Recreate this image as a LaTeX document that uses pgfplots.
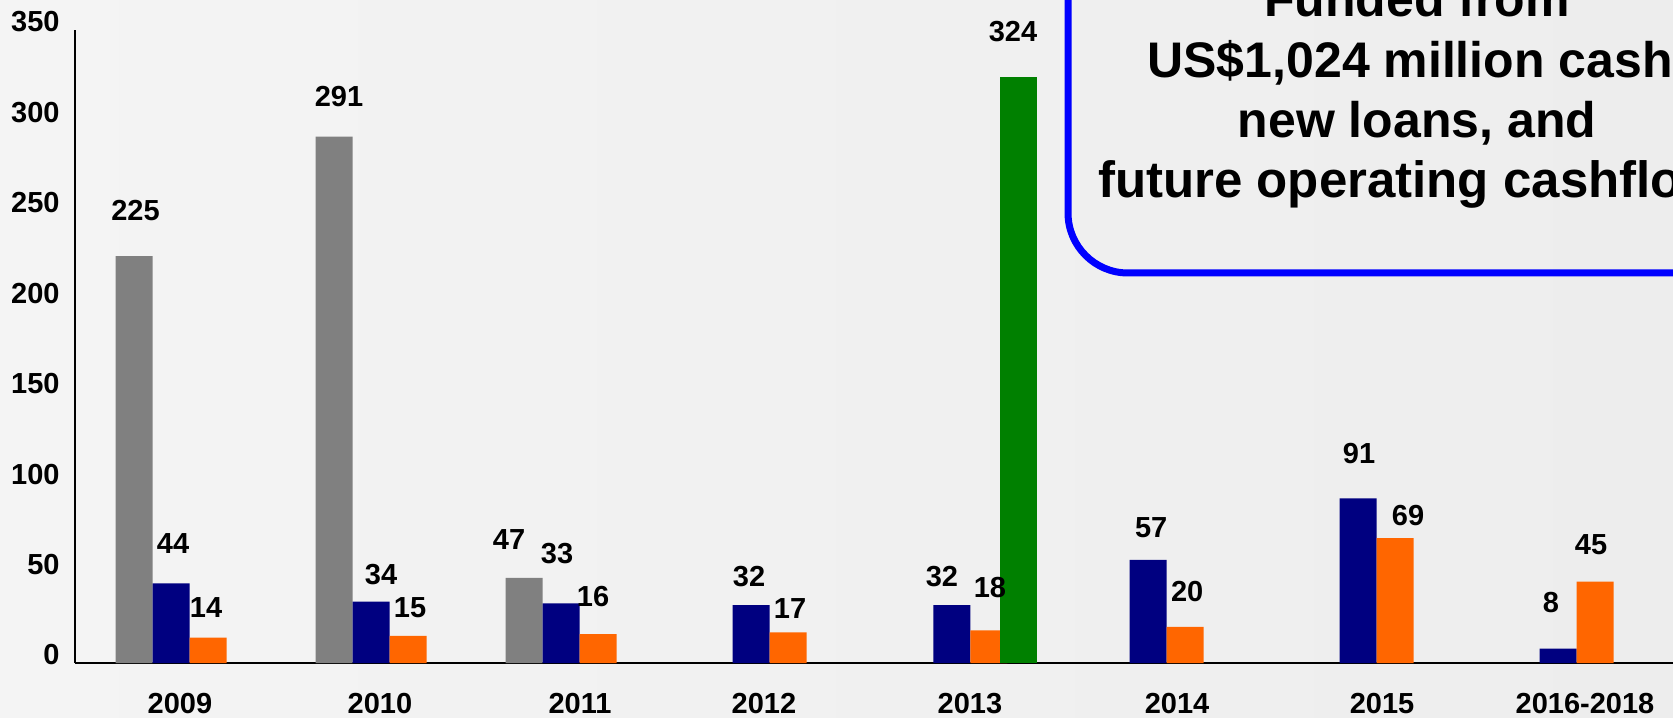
\documentclass[border=0pt]{standalone}
\usepackage{fontspec}
\setmainfont{Liberation Sans}
\usepackage{pgfplots}
\usepackage{pgfplotstable}
\pgfplotsset{compat=1.18}
\definecolor{cgray}{HTML}{808080}
\definecolor{cnavy}{HTML}{000080}
\definecolor{corange}{HTML}{FF6600}
\definecolor{cgreen}{HTML}{008000}
\definecolor{bgL}{HTML}{F4F4F4}
\definecolor{bgR}{HTML}{EDEDED}

\pgfplotstableread{
x y dx dy
0.023 225 0.75 23
1.033 291 2.5 20
1.993 47 -7.5 19
}\graydata
\pgfplotstableread{
x y dx dy
0.023 44 1 20
1.033 34 5 13.5
1.993 33 -2 25
2.952 32 -1 14.5
3.967 32 -5 14.5
4.958 57 1.5 16
6.018 91 0.5 22.5
7.028 8 -3.5 23
}\navydata
\pgfplotstableread{
x y dx dy
0.023 14 -1 15
1.033 15 1 14
1.993 16 -2.5 19
2.952 17 1 12
3.967 18 0.5 21.5
4.958 20 1 17.5
6.018 69 6.5 11.5
7.028 45 -2 18.5
}\orangedata
\pgfplotstableread{
x y dx dy
3.927 324 -2.5 22.5
}\greendata

\begin{document}
\begin{tikzpicture}
\useasboundingbox (0,0) rectangle (836.5pt,358.5pt);
\shade[left color=bgL, right color=bgR] (0,0) rectangle (836.5pt,358.5pt);
\clip (0,0) rectangle (836.5pt,358.5pt);
\begin{axis}[
  ybar=0pt, bar width=18.5pt,
  scale only axis, width=807.5pt, height=316.5pt,
  at={(37.5pt,27pt)}, anchor=south west,
  xmin=-0.5556, xmax=7.601, ymin=0, ymax=350,
  axis x line=bottom, axis y line=left,
  axis line style={-, black, line width=0.8pt},
  xtick={-0.0253,0.9848,1.9949,2.9242,3.9646,5.0101,6.0455,7.0707},
  xticklabels={2009,2010,2011,2012,2013,2014,2015,2016-2018},
  ytick={0,50,...,350},
  major tick length=0pt,
  tick label style={font=\fontsize{14.5}{16}\selectfont\bfseries},
  xticklabel style={anchor=center, inner sep=0pt, yshift=-20.25pt},
  yticklabel style={anchor=east, inner sep=0pt, xshift=-7.5pt, yshift=4pt},
  clip=false,
  /pgf/number format/assume math mode=true,
  lbl/.style={nodes near coords,
    visualization depends on={\thisrow{dx} \as \dx},
    visualization depends on={\thisrow{dy} \as \dy},
    every node near coord/.append style={font=\fontsize{14.5}{16}\selectfont\bfseries,
      anchor=center, xshift=\dx pt, yshift=\dy pt}},
]
\addplot[fill=cgray, draw=none, lbl] table[x=x,y=y]{\graydata};
\addplot[fill=cnavy, draw=none, lbl] table[x=x,y=y]{\navydata};
\addplot[fill=corange, draw=none, lbl] table[x=x,y=y]{\orangedata};
\addplot[fill=cgreen, draw=none, lbl] table[x=x,y=y]{\greendata};
\end{axis}
\draw[blue, line width=3.5pt, rounded corners=30pt] (534pt,222pt) rectangle (900pt,420pt);
\begin{scope}[every node/.style={anchor=base, inner sep=0pt, font=\fontsize{25}{30}\selectfont\bfseries}]
\node at (708.5pt,350pt) {Funded from};
\node at (708.5pt,319.5pt) {US\$1,024 million cash,};
\node at (708.5pt,289.5pt) {new loans, and};
\node[font=\fontsize{25.5}{30}\selectfont\bfseries] at (712pt,259.5pt) {future operating cashflows};
\end{scope}
\end{tikzpicture}
\end{document}
